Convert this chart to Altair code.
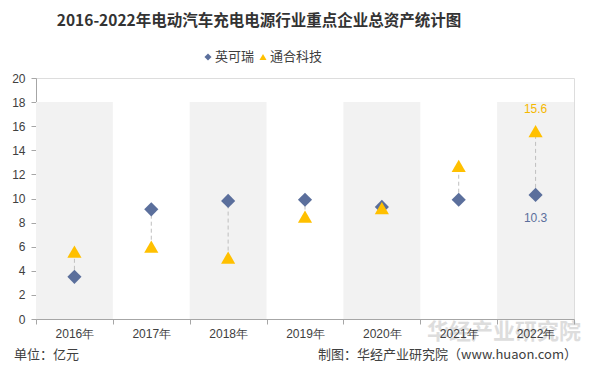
import altair as alt
import pandas as pd

years = ["2016年", "2017年", "2018年", "2019年", "2020年", "2021年", "2022年"]
yingkerui = [3.5, 9.1, 9.8, 9.9, 9.3, 9.9, 10.3]
tonghe = [5.6, 6.0, 5.1, 8.5, 9.2, 12.7, 15.6]
band_years = ["2016年", "2018年", "2020年", "2022年"]
band_top = 18
y_ticks = [0, 2, 4, 6, 8, 10, 12, 14, 16, 18, 20]

BLUE = "#5b6f9c"
GOLD = "#ffc000"
W, H = 538, 241

df = pd.DataFrame({"year": years, "ykr": yingkerui, "th": tonghe})
df["lo"] = df[["ykr", "th"]].min(axis=1)
df["hi"] = df[["ykr", "th"]].max(axis=1)
bands = pd.DataFrame({"year": band_years, "y0": [0] * len(band_years), "y1": [band_top] * len(band_years)})

xscale = alt.Scale(domain=years, paddingInner=0, paddingOuter=0)
yscale = alt.Scale(domain=[0, 20], nice=False)

xaxis = alt.Axis(title=None, labelAngle=0, tickBand="extent", labelFontSize=12,
                 labelColor="#404040", labelFont="Liberation Sans", domainColor="#a6a6a6",
                 tickColor="#a6a6a6", tickSize=5, labelPadding=4, grid=False)
yaxis = alt.Axis(title=None, values=y_ticks, format="d", labelFontSize=12, labelColor="#404040",
                 labelFont="Liberation Sans", domainColor="#a6a6a6", tickColor="#a6a6a6",
                 tickSize=5, labelPadding=6, grid=False, labelOverlap=False, labelFlush=False,
                 labelBound=False, tickCount=30)

def X():
    return alt.X("year:N", scale=xscale, sort=years, axis=xaxis)

def Y(f):
    return alt.Y(f, scale=yscale, axis=yaxis)

band_layer = alt.Chart(bands).mark_rect(color="#f2f2f2").encode(x=X(), y=Y("y0:Q"), y2="y1:Q")

rule_layer = alt.Chart(df).mark_rule(color="#bfbfbf", strokeDash=[4, 3], strokeWidth=1).encode(
    x=X(), y=Y("lo:Q"), y2="hi:Q")

ykr_layer = alt.Chart(df).mark_point(shape="diamond", filled=True, color=BLUE, size=200, opacity=1).encode(
    x=X(), y=Y("ykr:Q"))

th_layer = alt.Chart(df).mark_point(shape="triangle-up", filled=True, color=GOLD, size=200, opacity=1).encode(
    x=X(), y=Y("th:Q"))

last = df[df["year"] == years[-1]]
lbl_th = alt.Chart(last).mark_text(color="#f5b800", fontSize=12, font="Liberation Sans", dy=-22).encode(
    x=X(), y=Y("th:Q"), text=alt.Text("th:Q", format=".1f"))
lbl_ykr = alt.Chart(last).mark_text(color=BLUE, fontSize=12, font="Liberation Sans", dy=23).encode(
    x=X(), y=Y("ykr:Q"), text=alt.Text("ykr:Q", format=".1f"))

one = pd.DataFrame({"a": [0]})

def txt(s, x, y, **kw):
    return alt.Chart(one).mark_text(**kw).encode(x=alt.value(x), y=alt.value(y), text=alt.value(s))

title = txt("2016-2022年电动汽车充电电源行业重点企业总资产统计图", 223, -57, fontSize=15.5, fontWeight="bold",
            font="Noto Sans CJK SC", color="#333333", align="center", baseline="middle")
leg1 = alt.Chart(one).mark_point(shape="diamond", filled=True, color=BLUE, size=50, opacity=1).encode(
    x=alt.value(172), y=alt.value(-21))
leg1t = txt("英可瑞", 179, -21, fontSize=13, font="Noto Sans CJK SC", color="#404040", align="left", baseline="middle")
leg2 = alt.Chart(one).mark_point(shape="triangle-up", filled=True, color=GOLD, size=50, opacity=1).encode(
    x=alt.value(227), y=alt.value(-21))
leg2t = txt("通合科技", 234, -21, fontSize=13, font="Noto Sans CJK SC", color="#404040", align="left", baseline="middle")
watermark = txt("华经产业研究院", 468, 254, fontSize=22, fontWeight="bold", font="Noto Sans CJK SC",
                color="#c8c8c8", opacity=0.6, align="center", baseline="middle")
unit = txt("单位：亿元", -22, 277, fontSize=13, font="Noto Sans CJK SC", color="#404040", align="left", baseline="middle")
src = txt("制图：华经产业研究院（www.huaon.com）", 541, 277, fontSize=13, font="Noto Sans CJK SC",
          color="#404040", align="right", baseline="middle")

chart = alt.layer(band_layer, rule_layer, ykr_layer, th_layer, lbl_th, lbl_ykr,
                  title, leg1, leg1t, leg2, leg2t, watermark, unit, src).properties(
    width=W, height=H,
    autosize=alt.AutoSizeParams(type="none"),
    padding={"left": 28, "top": 70, "right": 11, "bottom": 50},
).configure_view(stroke=None).configure(background="white").configure_axisY(labelOverlap=False)

chart.save("out.html", embed_options={"renderer": "svg", "actions": False})
